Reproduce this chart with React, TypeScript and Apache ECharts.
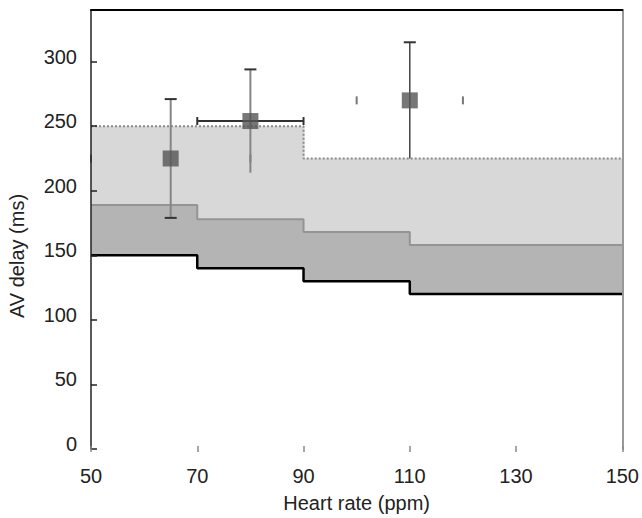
import React, { useEffect, useRef } from "react";
import * as echarts from "echarts";

// Step boundaries (heart rate, ppm)
const stepRates = [50, 70, 90, 110, 150];
// Lower bound (black line)
const lowerDelay = [150, 140, 130, 120, 120];
// Middle bound (grey line, top of dark band)
const middleDelay = [189, 178, 168, 158, 158];
// Upper bound (dotted line, top of light band)
const upperDelay = [250, 250, 225, 225, 225];

// Measured points
const pointRate = [65, 80, 110];
const pointDelay = [225, 254, 270];
const delayErrLow = [179, 214, 225];
const delayErrHigh = [271, 294, 315];
const rateErrLow = [50, 70, 100];
const rateErrHigh = [80, 90, 120];

const xTicks = [50, 70, 90, 110, 130, 150];
const yTicks = [0, 50, 100, 150, 200, 250, 300];

// Per-point error bar styling
const errStyles = [
  { vColor: "#858585", vWidth: 2, bottomCap: true, hLine: false },
  { vColor: "#858585", vWidth: 2, bottomCap: false, hLine: true },
  { vColor: "#444444", vWidth: 1.5, bottomCap: false, hLine: false },
];

const FONT = "'Liberation Sans', Arial, sans-serif";

export default function App() {
  const ref = useRef<HTMLDivElement>(null);

  useEffect(() => {
    if (!ref.current) return;
    const chart = echarts.init(ref.current, null, { renderer: "svg" });

    const lowerData = stepRates.map((x, i) => [x, lowerDelay[i]]);
    const midData = stepRates.map((x, i) => [x, middleDelay[i]]);
    const upData = stepRates.map((x, i) => [x, upperDelay[i]]);
    const lastIdx = stepRates.length - 2;
    const bandData = stepRates.slice(0, -1).map((x, i) => [
      x,
      stepRates[i + 1],
      lowerDelay[i],
      middleDelay[i],
      upperDelay[i],
    ]);
    const errData = pointRate.map((x, i) => [
      x,
      pointDelay[i],
      delayErrLow[i],
      delayErrHigh[i],
      rateErrLow[i],
      rateErrHigh[i],
    ]);
    const pointData = pointRate.map((x, i) => [x, pointDelay[i]]);

    chart.setOption({
      animation: false,
      textStyle: { fontFamily: FONT },
      grid: { left: 91, right: 17, top: 10, bottom: 67, containLabel: false },
      xAxis: [
        {
          type: "value",
          min: xTicks[0],
          max: xTicks[xTicks.length - 1],
          interval: 20,
          position: "bottom",
          offset: -3,
          z: 10,
          axisLine: { show: false, onZero: false },
          axisTick: { show: true, length: 6, lineStyle: { color: "#8a8a8a", width: 1.5 } },
          axisLabel: { fontSize: 20, color: "#222", margin: 20, fontFamily: FONT },
          splitLine: { show: false },
          name: "Heart rate (ppm)",
          nameLocation: "middle",
          nameGap: 47,
          nameTextStyle: { fontSize: 20, color: "#222", fontFamily: FONT },
        },
        {
          type: "value",
          min: xTicks[0],
          max: xTicks[xTicks.length - 1],
          position: "top",
          z: 10,
          axisLine: { show: true, onZero: false, lineStyle: { color: "#000", width: 2 } },
          axisTick: { show: false },
          axisLabel: { show: false },
          splitLine: { show: false },
        },
      ],
      yAxis: [
        {
          type: "value",
          min: yTicks[0],
          max: 340,
          interval: 50,
          position: "left",
          z: 10,
          axisLine: { show: true, onZero: false, lineStyle: { color: "#222", width: 1.5 } },
          axisTick: { show: true, inside: true, length: 6, lineStyle: { color: "#222", width: 1.5 } },
          axisLabel: {
            fontSize: 20,
            color: "#222",
            margin: 14,
            showMaxLabel: false,
            verticalAlign: "bottom",
            lineHeight: 10,
            fontFamily: FONT,
          },
          splitLine: { show: false },
        },
        {
          type: "value",
          min: yTicks[0],
          max: 340,
          position: "right",
          z: 10,
          axisLine: { show: true, onZero: false, lineStyle: { color: "#999", width: 2 } },
          axisTick: { show: false },
          axisLabel: { show: false },
          splitLine: { show: false },
        },
      ],
      graphic: [
        {
          type: "text",
          x: 17,
          y: 256,
          rotation: Math.PI / 2,
          style: {
            text: "AV delay (ms)",
            fontSize: 20,
            fill: "#222",
            fontFamily: FONT,
            align: "center",
            verticalAlign: "middle",
          },
        },
      ],
      series: [
        {
          type: "custom",
          name: "bands",
          data: bandData,
          z: 1,
          encode: { x: [0, 1], y: [2, 3, 4] },
          renderItem: (params: any, api: any) => {
            const x0 = api.value(0);
            const x1 = api.value(1);
            const pLo0 = api.coord([x0, api.value(2)]);
            const pMid1 = api.coord([x1, api.value(3)]);
            const pMid0 = api.coord([x0, api.value(3)]);
            const pHi0 = api.coord([x0, api.value(4)]);
            const w = pMid1[0] - pMid0[0] + (params.dataIndex < lastIdx ? 1 : 0);
            return {
              type: "group",
              children: [
                {
                  type: "rect",
                  shape: { x: pMid0[0], y: pHi0[1], width: w, height: pMid0[1] - pHi0[1] + 0.5 },
                  style: { fill: "#d8d8d8" },
                },
                {
                  type: "rect",
                  shape: { x: pLo0[0], y: pMid0[1], width: w, height: pLo0[1] - pMid0[1] },
                  style: { fill: "#b4b4b4" },
                },
              ],
            };
          },
        },
        {
          type: "line",
          name: "upper",
          step: "end",
          data: upData,
          showSymbol: false,
          z: 2,
          lineStyle: { color: "#8a8a8a", width: 2, type: [2, 2] },
        },
        {
          type: "line",
          name: "middle",
          step: "end",
          data: midData,
          showSymbol: false,
          z: 3,
          lineStyle: { color: "#949494", width: 2 },
        },
        {
          type: "line",
          name: "lower",
          step: "end",
          data: lowerData,
          showSymbol: false,
          z: 4,
          lineStyle: { color: "#000", width: 2.5 },
        },
        {
          type: "custom",
          name: "errors",
          data: errData,
          z: 5,
          encode: { x: [0, 4, 5], y: [1, 2, 3] },
          renderItem: (params: any, api: any) => {
            const i = params.dataIndex;
            const st = errStyles[i];
            const x = api.value(0);
            const y = api.value(1);
            const top = api.coord([x, api.value(3)]);
            const bot = api.coord([x, api.value(2)]);
            const left = api.coord([api.value(4), y]);
            const right = api.coord([api.value(5), y]);
            const children: any[] = [
              {
                type: "line",
                shape: { x1: top[0], y1: top[1], x2: bot[0], y2: bot[1] },
                style: { stroke: st.vColor, lineWidth: st.vWidth },
              },
              {
                type: "line",
                shape: { x1: top[0] - 6, y1: top[1], x2: top[0] + 6, y2: top[1] },
                style: { stroke: "#333", lineWidth: 2 },
              },
            ];
            if (st.bottomCap) {
              children.push({
                type: "line",
                shape: { x1: bot[0] - 6, y1: bot[1], x2: bot[0] + 6, y2: bot[1] },
                style: { stroke: "#333", lineWidth: 2 },
              });
            }
            if (st.hLine) {
              children.push({
                type: "line",
                shape: { x1: left[0], y1: left[1], x2: right[0], y2: right[1] },
                style: { stroke: "#333", lineWidth: 2 },
              });
            }
            const capColor = st.hLine ? "#333" : "#777";
            [left, right].forEach((p) => {
              children.push({
                type: "line",
                shape: { x1: p[0], y1: p[1] - 4, x2: p[0], y2: p[1] + 4 },
                style: { stroke: capColor, lineWidth: 2 },
              });
            });
            return { type: "group", children };
          },
        },
        {
          type: "scatter",
          name: "points",
          data: pointData,
          symbol: "rect",
          symbolSize: 16,
          z: 6,
          itemStyle: { color: "#555555" },
        },
      ],
    });

    return () => chart.dispose();
  }, []);

  return (
    <div
      ref={ref}
      style={{ position: "absolute", left: 0, top: 0, width: 642, height: 518 }}
    />
  );
}
